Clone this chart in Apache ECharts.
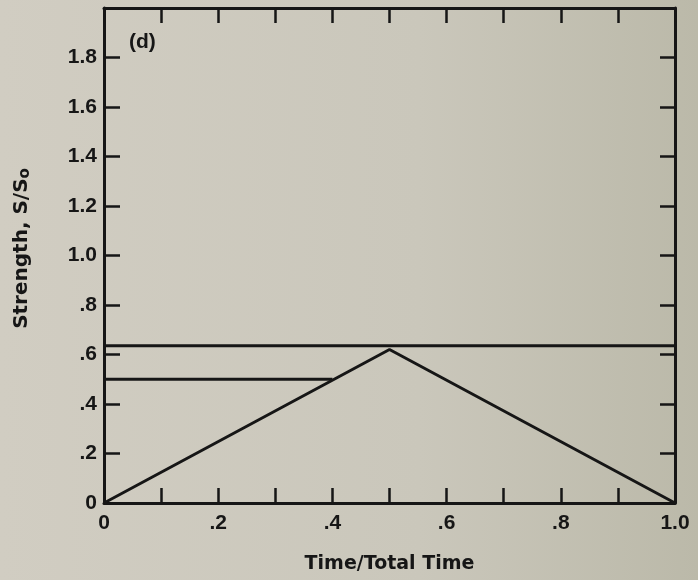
<!DOCTYPE html>
<html>
<head>
<meta charset="utf-8">
<script src="https://cdn.jsdelivr.net/npm/echarts@6/dist/echarts.min.js"></script>
<style>
html,body{margin:0;padding:0;}
#chart{width:698px;height:580px;}
</style>
</head>
<body>
<div id="chart"></div>
<script>
// Data
var topLineX = [0, 1.0];
var topLineY = [0.635, 0.635];
var midLineX = [0, 0.4];
var midLineY = [0.5, 0.5];
var triX = [0, 0.5, 1.0];
var triY = [0, 0.62, 0];
var xTickLabels = ['0', '.2', '.4', '.6', '.8', '1.0'];
var yTickLabels = ['0', '.2', '.4', '.6', '.8', '1.0', '1.2', '1.4', '1.6', '1.8'];
var panelLabel = '(d)';

function pairs(xs, ys) { return xs.map(function (x, i) { return [x, ys[i]]; }); }

var font = '"Liberation Sans", Arial, sans-serif';
var titleFont = '"DejaVu Sans", sans-serif';
var black = '#161616';

var chart = echarts.init(document.getElementById('chart'));
var lineStyle = { color: black, width: 3 };
var tickStyle = { color: black, width: 2.5 };

chart.setOption({
  backgroundColor: {
    type: 'linear', x: 0, y: 0, x2: 1, y2: 0,
    colorStops: [{ offset: 0, color: '#d1cdc2' }, { offset: 0.6, color: '#cac7bb' }, { offset: 1, color: '#bbb9a9' }]
  },
  animation: false,
  grid: { left: 104, right: 23, top: 8, bottom: 77 },
  xAxis: [{
    type: 'value', min: 0, max: 1, interval: 0.1,
    axisLine: { show: true, onZero: false, lineStyle: lineStyle },
    axisTick: { show: true, inside: true, length: 15, lineStyle: tickStyle },
    splitLine: { show: false },
    axisLabel: {
      color: black, fontFamily: font, fontWeight: 'bold', fontSize: 21, margin: 10,
      formatter: function (v) {
        var k = Math.round(v * 10);
        if (k % 2 !== 0) return '';
        return xTickLabels[k / 2];
      }
    },
    name: 'Time/Total Time', nameLocation: 'middle', nameGap: 52,
    nameTextStyle: { color: black, fontFamily: titleFont, fontWeight: 'bold', fontSize: 19 }
  }, {
    type: 'value', position: 'top', min: 0, max: 1, interval: 0.1,
    axisLine: { show: true, onZero: false, lineStyle: lineStyle },
    axisTick: { show: true, inside: true, length: 15, lineStyle: tickStyle },
    axisLabel: { show: false }, splitLine: { show: false }
  }],
  yAxis: [{
    type: 'value', min: 0, max: 2.0, interval: 0.2,
    axisLine: { show: true, onZero: false, lineStyle: lineStyle },
    axisTick: { show: true, inside: true, length: 16, lineStyle: tickStyle },
    splitLine: { show: false },
    axisLabel: {
      color: black, fontFamily: font, fontWeight: 'bold', fontSize: 21, margin: 7,
      formatter: function (v) {
        var k = Math.round(v * 5);
        return k < yTickLabels.length ? yTickLabels[k] : '';
      }
    },
    name: 'Strength, S/S{sub|o}', nameLocation: 'middle', nameGap: 71, nameRotate: 90,
    nameTextStyle: {
      color: black, fontFamily: titleFont, fontWeight: 'bold', fontSize: 20,
      padding: [0, 0, 0, 14],
      rich: { sub: { fontFamily: titleFont, fontWeight: 'bold', fontSize: 15, color: black, verticalAlign: 'bottom', padding: [8, 0, 0, 0] } }
    }
  }, {
    type: 'value', position: 'right', min: 0, max: 2.0, interval: 0.2,
    axisLine: { show: true, onZero: false, lineStyle: lineStyle },
    axisTick: { show: true, inside: true, length: 15, lineStyle: tickStyle },
    axisLabel: { show: false }, splitLine: { show: false }
  }],
  graphic: [{
    type: 'text', left: 129, top: 32,
    style: { text: panelLabel, fill: black, font: 'bold 21px ' + font }
  }],
  series: [
    { type: 'line', data: pairs(topLineX, topLineY), symbol: 'none', lineStyle: lineStyle },
    { type: 'line', data: pairs(midLineX, midLineY), symbol: 'none', lineStyle: lineStyle },
    { type: 'line', data: pairs(triX, triY), symbol: 'none', lineStyle: lineStyle }
  ]
});
</script>
</body>
</html>
